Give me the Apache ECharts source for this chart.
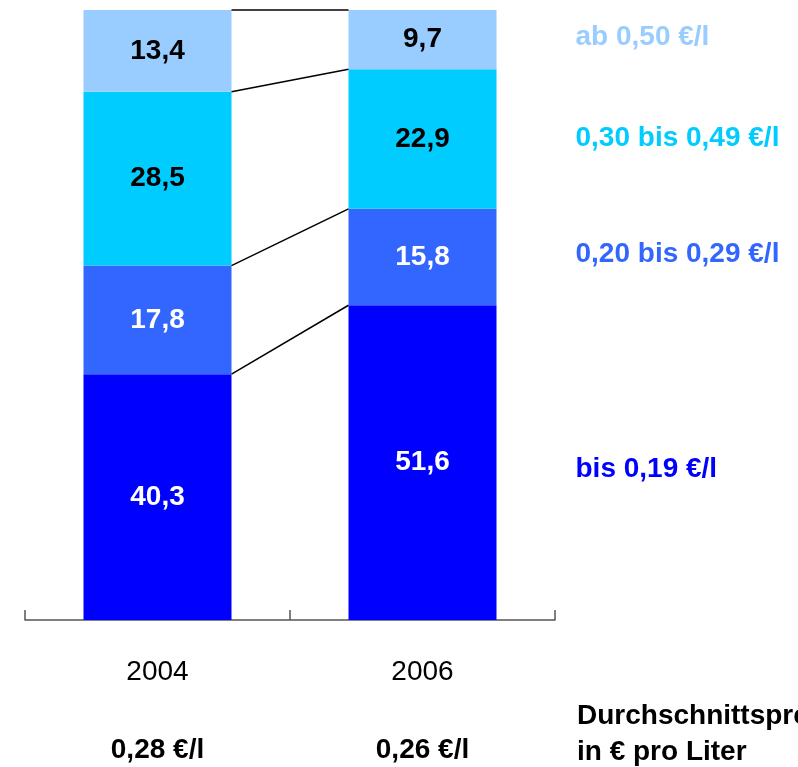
<!DOCTYPE html>
<html><head><meta charset="utf-8">
<script src="https://cdn.jsdelivr.net/npm/echarts@6/dist/echarts.min.js"></script>
<style>html,body{margin:0;padding:0;background:#fff}#c{width:798px;height:767px}</style>
</head><body><div id="c"></div>
<script>
const years = ['2004', '2006'];
const avgPrices = ['0,28 €/l', '0,26 €/l'];
const segNames = ['bis 0,19 €/l', '0,20 bis 0,29 €/l', '0,30 bis 0,49 €/l', 'ab 0,50 €/l'];
const segColors = ['#0000FF', '#3366FF', '#00CCFF', '#99CCFF'];
const labelColors = ['#FFFFFF', '#FFFFFF', '#000000', '#000000'];
const val2004 = [40.3, 17.8, 28.5, 13.4];
const val2006 = [51.6, 15.8, 22.9, 9.7];
const noteLines = ['Durchschnittspreis', 'in € pro Liter'];

const FONT = "'Liberation Sans',Arial,sans-serif";
const BARW = 148;
const legDy = [7, -3, -1, -2];

function cum(arr){ let s=0; return arr.map(v => (s += v)); }
const c04 = cum(val2004), c06 = cum(val2006);

const barSeries = segNames.map((name, i) => ({
  name, type: 'bar', stack: 'total', barWidth: BARW,
  data: [val2004[i], val2006[i]],
  itemStyle: { color: segColors[i] },
  label: {
    show: true, position: 'inside',
    formatter: p => String(p.value).replace('.', ','),
    color: labelColors[i], fontFamily: FONT, fontWeight: 'bold', fontSize: 28
  },
  z: 2
}));

// connector lines between stack boundaries
const connData = c04.map((v, i) => [v, c06[i]]);
const connSeries = {
  type: 'custom', silent: true, z: 3,
  data: connData,
  encode: { y: [0, 1] },
  renderItem: (params, api) => {
    const a = api.coord([0, api.value(0)]);
    const b = api.coord([1, api.value(1)]);
    return { type: 'line', shape: { x1: a[0] + BARW/2, y1: a[1], x2: b[0] - BARW/2, y2: b[1] },
      style: { stroke: '#000', lineWidth: 1.5 } };
  }
};

// right-hand category names aligned with the 2006 segments
const legData = segNames.map((n, i) => [c06[i] - val2006[i]/2, i]);
const legSeries = {
  type: 'custom', silent: true, z: 4,
  data: legData,
  encode: { y: 0 },
  renderItem: (params, api) => {
    const i = api.value(1);
    const p = api.coord([1, api.value(0)]);
    return { type: 'text', x: p[0] + BARW/2 + 79, y: p[1] + legDy[i],
      style: { text: segNames[i], fill: segColors[i], font: 'bold 28px ' + FONT, verticalAlign: 'middle', align: 'left' } };
  }
};

const chart = echarts.init(document.getElementById('c'), null, { renderer: 'canvas' });
chart.setOption({
  animation: false,
  backgroundColor: '#fff',
  grid: { left: 25, right: 243, top: 10, bottom: 147, containLabel: false },
  xAxis: [{
    type: 'category', data: years, position: 'bottom',
    axisLine: { lineStyle: { color: '#555', width: 1.5 } },
    axisTick: { show: true, inside: true, length: 10, lineStyle: { color: '#555', width: 1.5 } },
    axisLabel: { margin: 38, color: '#000', fontFamily: FONT, fontSize: 28 }
  }, {
    type: 'category', data: avgPrices, position: 'bottom',
    axisLine: { show: false }, axisTick: { show: false },
    axisLabel: { margin: 116, color: '#000', fontFamily: FONT, fontSize: 28, fontWeight: 'bold' }
  }],
  yAxis: { type: 'value', min: 0, max: 100, show: false },
  series: [...barSeries, connSeries, legSeries],
  graphic: [{
    type: 'text', left: 577, top: 698,
    style: { text: noteLines.join('\n'), font: 'bold 28px ' + FONT, fill: '#000', lineHeight: 36 }
  }]
});
</script></body></html>
